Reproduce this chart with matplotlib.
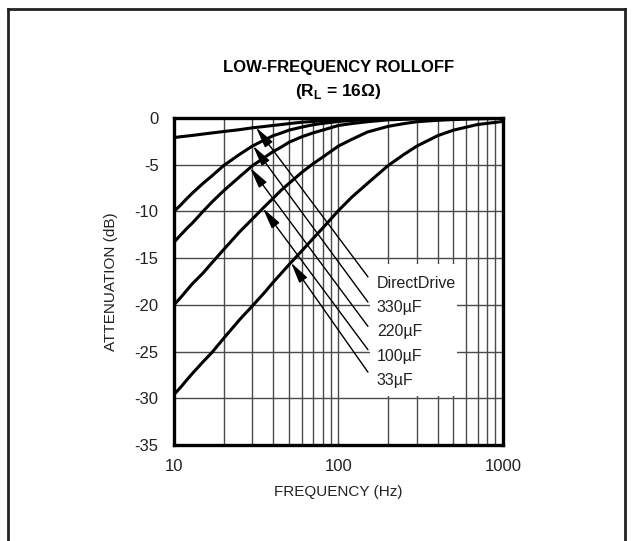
import matplotlib
matplotlib.use("Agg")
import matplotlib.pyplot as plt
from matplotlib.patches import Rectangle
from matplotlib.ticker import FixedLocator, NullFormatter
import numpy as np

plt.rcParams['font.family'] = ['Liberation Sans', 'DejaVu Sans']
plt.rcParams['axes.unicode_minus'] = False
plt.rcParams['mathtext.fontset'] = 'custom'
plt.rcParams['mathtext.rm'] = 'Liberation Sans:bold'
plt.rcParams['mathtext.bf'] = 'Liberation Sans:bold'

# Frequenzpunkte (Hz) und Daempfung (dB) je Kurve
freq = [10, 11, 12, 13, 15, 17, 20, 25, 30, 35, 40, 45, 50, 60, 70, 80, 100, 120, 150, 200, 250, 300, 400, 500, 700, 1000]
att_directdrive = [-2.1, -2.0, -1.93, -1.86, -1.72, -1.6, -1.45, -1.25, -1.05, -0.92, -0.8, -0.7, -0.6, -0.45, -0.37, -0.3, -0.2, -0.15, -0.1, -0.05, -0.03, -0.02, -0.01, 0.0, 0.0, 0.0]
att_330uf = [-10.0, -9.3, -8.6, -8.0, -7.0, -6.2, -5.1, -3.9, -3.0, -2.4, -1.9, -1.6, -1.3, -0.97, -0.73, -0.58, -0.37, -0.27, -0.17, -0.1, -0.06, -0.04, -0.02, -0.02, -0.01, 0.0]
att_220uf = [-13.3, -12.5, -11.8, -11.2, -10.0, -9.0, -7.8, -6.3, -5.1, -4.3, -3.6, -3.1, -2.6, -2.0, -1.6, -1.3, -0.8, -0.6, -0.4, -0.2, -0.14, -0.1, -0.06, -0.04, -0.02, -0.01]
att_100uf = [-20.0, -19.2, -18.4, -17.7, -16.6, -15.5, -14.1, -12.2, -10.8, -9.6, -8.6, -7.7, -7.0, -5.8, -4.9, -4.2, -3.0, -2.3, -1.5, -0.9, -0.6, -0.4, -0.25, -0.17, -0.09, -0.04]
att_33uf = [-29.6, -28.8, -28.0, -27.3, -26.1, -25.1, -23.6, -21.6, -20.1, -18.8, -17.6, -16.6, -15.7, -14.2, -12.9, -11.8, -9.9, -8.5, -7.0, -5.1, -3.9, -3.0, -1.9, -1.3, -0.7, -0.37]

curves = [att_directdrive, att_330uf, att_220uf, att_100uf, att_33uf]
labels = ['DirectDrive', '330µF', '220µF', '100µF', '33µF']
arrow_freq = [31.5, 30.2, 29.0, 34.7, 51.4]  # wo die Pfeile auf die Kurven zeigen

yticks = [0, -5, -10, -15, -20, -25, -30, -35]
xticks = [10, 100, 1000]

fig = plt.figure(figsize=(6.33, 5.41), dpi=100)
ax = fig.add_axes([0.2749, 0.1774, 0.5197, 0.6045])

for att in curves:
    ax.plot(freq, att, color='black', lw=2.2, zorder=4, solid_capstyle='butt')

ax.set_xscale('log')
ax.set_xlim(10, 1000)
ax.set_ylim(-35, 0)
ax.set_yticks(yticks)
ax.set_yticklabels([str(t) for t in yticks])
ax.set_xticks(xticks)
ax.set_xticklabels([str(t) for t in xticks])
ax.xaxis.set_minor_locator(FixedLocator([20, 30, 40, 50, 60, 70, 80, 90, 200, 300, 400, 500, 600, 700, 800, 900]))
ax.xaxis.set_minor_formatter(NullFormatter())
ax.tick_params(axis='both', which='both', length=0, labelsize=12, colors='#222222')
ax.tick_params(axis='y', pad=11)
ax.tick_params(axis='x', pad=10)
ax.grid(True, which='major', color='#4a4a4a', lw=1.0, zorder=1)
ax.grid(True, which='minor', axis='x', color='#4a4a4a', lw=1.0, zorder=1)
for s in ax.spines.values():
    s.set_linewidth(2.4)
    s.set_zorder(6)

ax.set_xlabel('FREQUENCY (Hz)', fontsize=11, color='#222222', labelpad=8)
ax.set_ylabel('ATTENUATION (dB)', fontsize=11, color='#222222', labelpad=12)

# weisses Feld hinter der Beschriftung
ax.add_patch(Rectangle((155, -29.7), 525 - 155, 29.7 - 15.6, facecolor='white',
                       edgecolor='none', zorder=2))

label_y = [-17.7, -20.3, -22.8, -25.5, -28.1]
lead_y = [-17.0, -19.7, -22.3, -24.8, -27.2]
logf = np.log10(freq)
for att, lab, fa, ty, ly in zip(curves, labels, arrow_freq, label_y, lead_y):
    tip = np.interp(np.log10(fa), logf, att)
    ax.annotate('', xy=(fa, tip), xytext=(151, ly),
                arrowprops=dict(arrowstyle='-|>,head_length=0.8,head_width=0.18',
                                color='black', lw=1.0,
                                mutation_scale=16, shrinkA=0, shrinkB=0),
                zorder=5)
    ax.text(171, ty, lab, fontsize=11.5, va='center', ha='left', color='#222222', zorder=5)

fig.text(0.535, 0.876, 'LOW-FREQUENCY ROLLOFF', ha='center', va='center',
         fontsize=12, fontweight='bold')
fig.text(0.535, 0.830, r'(R$_{\mathbf{L}}$ = 16Ω)', ha='center', va='center',
         fontsize=12.5, fontweight='bold')

# Rahmen um die Abbildung
fig.add_artist(plt.Line2D([8 / 633, 8 / 633], [0, 1 - 9 / 541], color='#222222', lw=2.0))
fig.add_artist(plt.Line2D([8 / 633, 625 / 633], [1 - 9 / 541, 1 - 9 / 541], color='#222222', lw=2.0))
fig.add_artist(plt.Line2D([625 / 633, 625 / 633], [0, 1 - 9 / 541], color='#222222', lw=2.0))

fig.savefig('out.png', dpi=100)
